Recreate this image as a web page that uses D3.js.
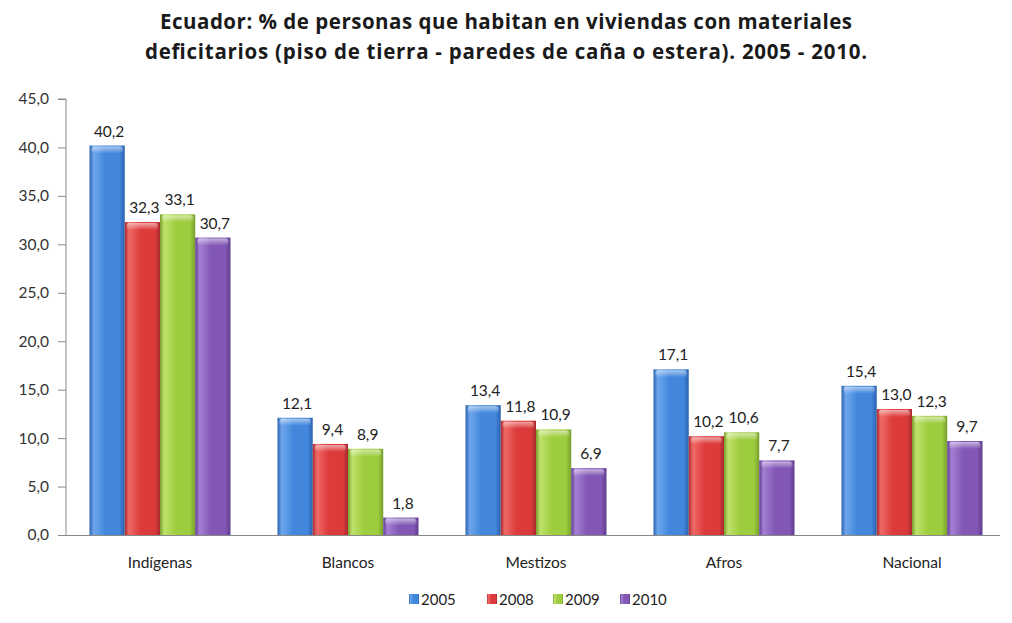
<!DOCTYPE html>
<html><head><meta charset="utf-8">
<script src="https://cdn.jsdelivr.net/npm/d3@7"></script>
<style>body{margin:0;background:#fff}svg{display:block}</style>
</head><body><svg id="c" width="1012" height="623"></svg>
<script>
const categories = ["Indígenas","Blancos","Mestizos","Afros","Nacional"];
const seriesNames = ["2005","2008","2009","2010"];
const v2005 = [40.2,12.1,13.4,17.1,15.4];
const v2008 = [32.3,9.4,11.8,10.2,13.0];
const v2009 = [33.1,8.9,10.9,10.6,12.3];
const v2010 = [30.7,1.8,6.9,7.7,9.7];
const yTicks = [0,5,10,15,20,25,30,35,40,45];
const titleLines = ["Ecuador: % de personas que habitan en viviendas con materiales","deficitarios (piso de tierra - paredes de caña o estera). 2005 - 2010."];

const series = [v2005,v2008,v2009,v2010];
const colors = [
  {mid:"#4287dc",dark:"#2a62b0",light:"#6ea6ec"},
  {mid:"#dd3b3b",dark:"#a92a2e",light:"#f06a66"},
  {mid:"#9dcc3e",dark:"#789f2e",light:"#bfe26a"},
  {mid:"#8257b6",dark:"#5e3d8c",light:"#a47fd2"}
];
const svg = d3.select("#c");
const font = "Lato, 'Open Sans', sans-serif";
const L=66, R=1006, T=99, B=535;
const x = d3.scaleBand().domain(categories).range([L,R]).paddingInner(0).paddingOuter(0);
const inner = d3.scaleBand().domain(seriesNames).range([23.5, x.bandwidth()-23.5]).padding(0);
const y = d3.scaleLinear().domain([0,45]).range([B,T]);

const defs = svg.append("defs");
colors.forEach((c,i)=>{
  const g = defs.append("linearGradient").attr("id","g"+i).attr("x1","0").attr("x2","1").attr("y1","0").attr("y2","0");
  g.append("stop").attr("offset","0").attr("stop-color",c.dark);
  g.append("stop").attr("offset","0.12").attr("stop-color",c.light);
  g.append("stop").attr("offset","0.45").attr("stop-color",c.mid);
  g.append("stop").attr("offset","0.85").attr("stop-color",c.mid);
  g.append("stop").attr("offset","1").attr("stop-color",c.dark);
  const gv = defs.append("linearGradient").attr("id","gv"+i).attr("x1","0").attr("x2","0").attr("y1","0").attr("y2","1");
  gv.append("stop").attr("offset","0").attr("stop-color","#fff").attr("stop-opacity",0.55);
  gv.append("stop").attr("offset","1").attr("stop-color","#fff").attr("stop-opacity",0);
});

// title
const titleW = [692, 722];
svg.append("g").selectAll("text").data(titleLines).join("text")
  .attr("x",506).attr("y",(d,i)=>29+i*30).attr("text-anchor","middle")
  .attr("textLength",(d,i)=>titleW[i]).attr("lengthAdjust","spacing")
  .attr("font-family","'Open Sans', sans-serif").attr("font-weight","bold").attr("font-size",20.5).attr("fill","#1a1a1a").text(d=>d);

// y axis
const ya = svg.append("g").attr("transform",`translate(${L},0)`)
  .call(d3.axisLeft(y).tickValues(yTicks).tickSize(8).tickPadding(9).tickFormat(d=>d3.format(".1f")(d).replace(".",",")));
ya.select(".domain").attr("stroke","#888").attr("d",`M-8,${T}H0V${B}`);
ya.selectAll(".tick line").attr("stroke","#888");
ya.selectAll("text").attr("font-family",font).attr("font-size",15.5).attr("fill","#333");

// bars
series.forEach((vals,si)=>{
  const g = svg.append("g");
  const bx = c=>x(c)+inner(seriesNames[si]);
  const bw = inner.bandwidth();
  g.selectAll("rect.b").data(categories).join("rect").attr("class","b")
    .attr("x",c=>bx(c)).attr("y",(c,i)=>y(vals[i])).attr("width",bw).attr("height",(c,i)=>B-y(vals[i]))
    .attr("fill",`url(#g${si})`);
  g.selectAll("rect.t").data(categories).join("rect").attr("class","t")
    .attr("x",c=>bx(c)+2).attr("y",(c,i)=>y(vals[i])+1).attr("width",bw-4).attr("height",(c,i)=>Math.min(7,B-y(vals[i])-1))
    .attr("rx",3).attr("fill",`url(#gv${si})`);
  g.selectAll("text").data(categories).join("text")
    .attr("x",c=>bx(c)+bw/2+2).attr("y",(c,i)=>y(vals[i])-9).attr("text-anchor","middle")
    .attr("font-family",font).attr("font-size",15.5).attr("fill","#222")
    .text((c,i)=>d3.format(".1f")(vals[i]).replace(".",","));
});

// x axis
const xa = svg.append("g").attr("transform",`translate(0,${B})`).call(d3.axisBottom(x).tickSize(0).tickPadding(22));
xa.select(".domain").attr("stroke","#888").attr("d",`M${L},0.5H${R-6}`);
xa.selectAll("text").attr("font-family",font).attr("font-size",15.5).attr("fill","#222");

// legend
const lx = [409,487,553,620];
const lg = svg.append("g").selectAll("g").data(seriesNames).join("g").attr("transform",(d,i)=>`translate(${lx[i]},605)`);
lg.append("rect").attr("x",0).attr("y",-11).attr("width",10).attr("height",10).attr("fill",(d,i)=>`url(#g${i})`);
lg.append("text").attr("x",12).attr("y",0).attr("font-family",font).attr("font-size",15).attr("fill","#222").text(d=>d);
</script></body></html>
